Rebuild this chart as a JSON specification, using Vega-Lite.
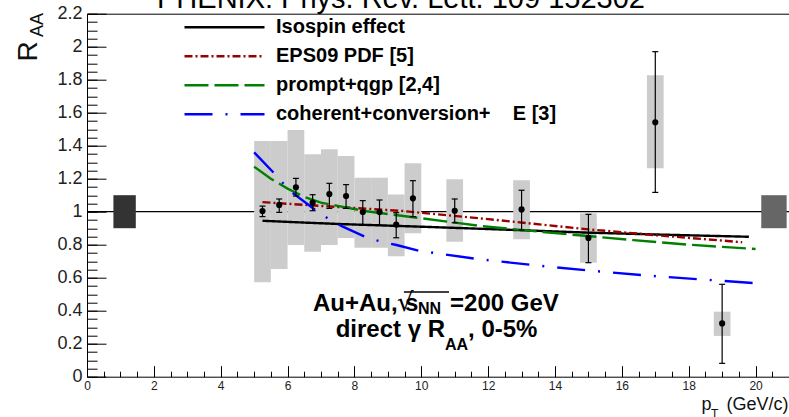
{
  "$schema": "https://vega.github.io/schema/vega-lite/v6.json",
  "width": 702,
  "height": 363,
  "autosize": {"type": "none"},
  "padding": {"left": 87, "top": 13.7, "right": 0, "bottom": 40.3},
  "background": "white",
  "title": {"text": "PHENIX: Phys. Rev. Lett. 109 152302", "anchor": "start", "frame": "group", "dx": 70, "dy": 32, "fontSize": 29, "fontWeight": "normal", "font": "Liberation Sans", "color": "black", "baseline": "alphabetic", "offset": 0},
  "config": {"view": {"stroke": null}, "font": "Liberation Sans"},
  "datasets": {
    "pts": [
      {"x": 5.25, "y": 1.004, "elo": 0.97, "ehi": 1.034, "xlo": 5.0, "xhi": 5.5, "slo": 0.572, "shi": 1.428},
      {"x": 5.75, "y": 1.041, "elo": 0.996, "ehi": 1.077, "xlo": 5.5, "xhi": 6.0, "slo": 0.653, "shi": 1.428},
      {"x": 6.25, "y": 1.148, "elo": 1.095, "ehi": 1.202, "xlo": 6.0, "xhi": 6.5, "slo": 0.798, "shi": 1.495},
      {"x": 6.75, "y": 1.055, "elo": 1.006, "ehi": 1.103, "xlo": 6.5, "xhi": 7.0, "slo": 0.758, "shi": 1.348},
      {"x": 7.25, "y": 1.107, "elo": 1.02, "ehi": 1.172, "xlo": 7.0, "xhi": 7.5, "slo": 0.798, "shi": 1.378},
      {"x": 7.75, "y": 1.095, "elo": 1.02, "ehi": 1.164, "xlo": 7.5, "xhi": 8.0, "slo": 0.84, "shi": 1.337},
      {"x": 8.25, "y": 0.998, "elo": 0.919, "ehi": 1.067, "xlo": 8.0, "xhi": 8.5, "slo": 0.782, "shi": 1.206},
      {"x": 8.75, "y": 0.998, "elo": 0.919, "ehi": 1.071, "xlo": 8.5, "xhi": 9.0, "slo": 0.782, "shi": 1.206},
      {"x": 9.25, "y": 0.922, "elo": 0.842, "ehi": 0.994, "xlo": 9.0, "xhi": 9.5, "slo": 0.73, "shi": 1.105},
      {"x": 9.75, "y": 1.081, "elo": 0.97, "ehi": 1.188, "xlo": 9.5, "xhi": 10.0, "slo": 0.869, "shi": 1.293},
      {"x": 11.0, "y": 1.006, "elo": 0.933, "ehi": 1.077, "xlo": 10.75, "xhi": 11.25, "slo": 0.818, "shi": 1.196},
      {"x": 13.0, "y": 1.014, "elo": 0.889, "ehi": 1.13, "xlo": 12.75, "xhi": 13.25, "slo": 0.833, "shi": 1.19},
      {"x": 15.0, "y": 0.841, "elo": 0.691, "ehi": 0.984, "xlo": 14.75, "xhi": 15.25, "slo": 0.691, "shi": 0.99},
      {"x": 17.0, "y": 1.542, "elo": 1.117, "ehi": 1.97, "xlo": 16.75, "xhi": 17.25, "slo": 1.263, "shi": 1.827},
      {"x": 19.0, "y": 0.323, "elo": 0.081, "ehi": 0.56, "xlo": 18.75, "xhi": 19.25, "slo": 0.247, "shi": 0.394}
    ],
    "curves": [
      {"model": "Isospin effect", "x": 5.25, "y": 0.945},
      {"model": "Isospin effect", "x": 6.5, "y": 0.934},
      {"model": "Isospin effect", "x": 7.6, "y": 0.925},
      {"model": "Isospin effect", "x": 10.0, "y": 0.909},
      {"model": "Isospin effect", "x": 12.0, "y": 0.895},
      {"model": "Isospin effect", "x": 15.0, "y": 0.873},
      {"model": "Isospin effect", "x": 17.0, "y": 0.862},
      {"model": "Isospin effect", "x": 19.8, "y": 0.848},
      {"model": "EPS09 PDF [5]", "x": 5.25, "y": 1.058},
      {"model": "EPS09 PDF [5]", "x": 7.0, "y": 1.035},
      {"model": "EPS09 PDF [5]", "x": 9.4, "y": 1.005},
      {"model": "EPS09 PDF [5]", "x": 12.0, "y": 0.955},
      {"model": "EPS09 PDF [5]", "x": 15.0, "y": 0.893},
      {"model": "EPS09 PDF [5]", "x": 17.0, "y": 0.858},
      {"model": "EPS09 PDF [5]", "x": 19.6, "y": 0.815},
      {"model": "prompt+qgp [2,4]", "x": 5.0, "y": 1.273},
      {"model": "prompt+qgp [2,4]", "x": 5.5, "y": 1.2},
      {"model": "prompt+qgp [2,4]", "x": 6.0, "y": 1.14},
      {"model": "prompt+qgp [2,4]", "x": 6.5, "y": 1.09},
      {"model": "prompt+qgp [2,4]", "x": 7.0, "y": 1.055},
      {"model": "prompt+qgp [2,4]", "x": 7.5, "y": 1.035},
      {"model": "prompt+qgp [2,4]", "x": 8.3, "y": 1.004},
      {"model": "prompt+qgp [2,4]", "x": 9.7, "y": 0.968},
      {"model": "prompt+qgp [2,4]", "x": 11.8, "y": 0.913},
      {"model": "prompt+qgp [2,4]", "x": 14.0, "y": 0.87},
      {"model": "prompt+qgp [2,4]", "x": 16.35, "y": 0.828},
      {"model": "prompt+qgp [2,4]", "x": 18.0, "y": 0.8},
      {"model": "prompt+qgp [2,4]", "x": 20.0, "y": 0.774},
      {"model": "coherent+conversion+\u00a0\u00a0\u00a0\u00a0E [3]", "x": 5.0, "y": 1.36},
      {"model": "coherent+conversion+\u00a0\u00a0\u00a0\u00a0E [3]", "x": 5.57, "y": 1.239},
      {"model": "coherent+conversion+\u00a0\u00a0\u00a0\u00a0E [3]", "x": 5.87, "y": 1.172},
      {"model": "coherent+conversion+\u00a0\u00a0\u00a0\u00a0E [3]", "x": 6.17, "y": 1.111},
      {"model": "coherent+conversion+\u00a0\u00a0\u00a0\u00a0E [3]", "x": 6.87, "y": 1.004},
      {"model": "coherent+conversion+\u00a0\u00a0\u00a0\u00a0E [3]", "x": 7.24, "y": 0.954},
      {"model": "coherent+conversion+\u00a0\u00a0\u00a0\u00a0E [3]", "x": 7.62, "y": 0.913},
      {"model": "coherent+conversion+\u00a0\u00a0\u00a0\u00a0E [3]", "x": 8.39, "y": 0.842},
      {"model": "coherent+conversion+\u00a0\u00a0\u00a0\u00a0E [3]", "x": 8.81, "y": 0.818},
      {"model": "coherent+conversion+\u00a0\u00a0\u00a0\u00a0E [3]", "x": 9.26, "y": 0.798},
      {"model": "coherent+conversion+\u00a0\u00a0\u00a0\u00a0E [3]", "x": 9.96, "y": 0.762},
      {"model": "coherent+conversion+\u00a0\u00a0\u00a0\u00a0E [3]", "x": 11.77, "y": 0.711},
      {"model": "coherent+conversion+\u00a0\u00a0\u00a0\u00a0E [3]", "x": 13.51, "y": 0.673},
      {"model": "coherent+conversion+\u00a0\u00a0\u00a0\u00a0E [3]", "x": 15.21, "y": 0.64},
      {"model": "coherent+conversion+\u00a0\u00a0\u00a0\u00a0E [3]", "x": 16.96, "y": 0.61},
      {"model": "coherent+conversion+\u00a0\u00a0\u00a0\u00a0E [3]", "x": 20.03, "y": 0.566}
    ]
  },
  "layer": [
    {
      "data": {"values": [{"x": 0, "x2": 21, "y": 1}]},
      "mark": {"type": "rule", "color": "black", "strokeWidth": 1.3, "clip": false},
      "encoding": {
        "x": {"field": "x", "type": "quantitative", "scale": {"domain": [0, 21], "nice": false, "zero": false},
          "axis": {"orient": "bottom", "values": [0, 2, 4, 6, 8, 10, 12, 14, 16, 18, 20], "format": "~g", "tickSize": -11, "tickColor": "black", "tickWidth": 1, "domainColor": "black", "domainWidth": 1, "grid": false, "labelFontSize": 12, "labelColor": "#222222", "labelPadding": 15, "labelFont": "Liberation Sans", "labelFlush": false, "labelOverlap": false,
            "title": "p\u00a0\u00a0\u00a0(GeV/c)", "titleX": 701, "titleY": 32.3, "titleAlign": "right", "titleBaseline": "alphabetic", "titleFontSize": 18, "titleFontWeight": "normal", "titleFont": "Liberation Sans", "titleColor": "#111111", "titleAnchor": null}},
        "x2": {"field": "x2"},
        "y": {"field": "y", "type": "quantitative", "scale": {"domain": [0, 2.2], "nice": false, "zero": false},
          "axis": {"orient": "left", "values": [0, 0.2, 0.4, 0.6, 0.8, 1, 1.2, 1.4, 1.6, 1.8, 2, 2.2], "format": "~g", "tickSize": -19, "tickColor": "black", "tickWidth": 1, "domainColor": "black", "domainWidth": 1, "grid": false, "labelFontSize": 18, "labelColor": "#222222", "labelPadding": 24, "labelFont": "Liberation Sans", "labelFlush": false, "labelOverlap": false,
            "title": "R", "titleX": -51, "titleY": 47.3, "titleAngle": 270, "titleAlign": "left", "titleBaseline": "alphabetic", "titleFontSize": 28, "titleFontWeight": "normal", "titleFont": "Liberation Sans", "titleColor": "#111111"}}
      }
    },
    {
      "data": {"name": "pts"},
      "mark": {"type": "rect", "color": "#cccccc"},
      "encoding": {
        "x": {"field": "xlo", "type": "quantitative", "scale": {"domain": [0, 21], "nice": false, "zero": false},
          "axis": {"orient": "bottom", "values": [0, 0.5, 1, 1.5, 2, 2.5, 3, 3.5, 4, 4.5, 5, 5.5, 6, 6.5, 7, 7.5, 8, 8.5, 9, 9.5, 10, 10.5, 11, 11.5, 12, 12.5, 13, 13.5, 14, 14.5, 15, 15.5, 16, 16.5, 17, 17.5, 18, 18.5, 19, 19.5, 20, 20.5, 21], "tickSize": -5.5, "tickColor": "black", "tickWidth": 1, "domain": false, "labels": false, "grid": false, "title": null}},
        "x2": {"field": "xhi"},
        "y": {"field": "slo", "type": "quantitative", "scale": {"domain": [0, 2.2], "nice": false, "zero": false},
          "axis": {"orient": "left", "values": [0, 0.05, 0.1, 0.15, 0.2, 0.25, 0.3, 0.35, 0.4, 0.45, 0.5, 0.55, 0.6, 0.65, 0.7, 0.75, 0.8, 0.85, 0.9, 0.95, 1, 1.05, 1.1, 1.15, 1.2, 1.25, 1.3, 1.35, 1.4, 1.45, 1.5, 1.55, 1.6, 1.65, 1.7, 1.75, 1.8, 1.85, 1.9, 1.95, 2, 2.05, 2.1, 2.15, 2.2], "tickSize": -10, "tickColor": "black", "tickWidth": 1, "domain": false, "labels": false, "grid": false, "title": null}},
        "y2": {"field": "shi"}
      }
    },
    {
      "data": {"values": [{"xlo": 0.79, "xhi": 1.46, "ylo": 0.9, "yhi": 1.1}]},
      "mark": {"type": "rect", "color": "#333333", "clip": false},
      "encoding": {
        "x": {"field": "xlo", "type": "quantitative", "scale": {"domain": [0, 21], "nice": false, "zero": false},
          "axis": {"orient": "top", "domain": true, "domainColor": "black", "domainWidth": 1, "ticks": false, "labels": false, "grid": false, "title": null}},
        "x2": {"field": "xhi"},
        "y": {"field": "ylo", "type": "quantitative", "scale": {"domain": [0, 2.2], "nice": false, "zero": false}, "axis": null},
        "y2": {"field": "yhi"}
      }
    },
    {
      "data": {"values": [{"xlo": 20.17, "xhi": 20.93, "ylo": 0.9, "yhi": 1.1}]},
      "mark": {"type": "rect", "color": "#666666", "clip": false},
      "encoding": {
        "x": {"field": "xlo", "type": "quantitative", "scale": {"domain": [0, 21], "nice": false, "zero": false}, "axis": null},
        "x2": {"field": "xhi"},
        "y": {"field": "ylo", "type": "quantitative", "scale": {"domain": [0, 2.2], "nice": false, "zero": false}, "axis": null},
        "y2": {"field": "yhi"}
      }
    },
    {
      "data": {"name": "curves"},
      "mark": {"type": "line", "strokeWidth": 2.4, "clip": false},
      "encoding": {
        "x": {"field": "x", "type": "quantitative", "scale": {"domain": [0, 21], "nice": false, "zero": false}, "axis": null},
        "y": {"field": "y", "type": "quantitative", "scale": {"domain": [0, 2.2], "nice": false, "zero": false}, "axis": null},
        "color": {"field": "model", "type": "nominal",
          "scale": {"domain": ["Isospin effect", "EPS09 PDF [5]", "prompt+qgp [2,4]", "coherent+conversion+\u00a0\u00a0\u00a0\u00a0E [3]"], "range": ["#000000", "#990000", "#008000", "#0000ff"]},
          "legend": {"orient": "none", "legendX": 96, "legendY": 5, "title": null, "symbolType": "stroke", "symbolSize": 6400, "symbolStrokeWidth": 2.5, "clipHeight": 17, "rowPadding": 8, "labelOffset": 10, "labelFontSize": 20, "labelFontWeight": "bold", "labelFont": "Liberation Sans", "labelColor": "black", "padding": 0, "labelLimit": 500, "direction": "vertical"}},
        "strokeDash": {"field": "model", "type": "nominal",
          "scale": {"domain": ["Isospin effect", "EPS09 PDF [5]", "prompt+qgp [2,4]", "coherent+conversion+\u00a0\u00a0\u00a0\u00a0E [3]"], "range": [[1, 0], [8, 3, 2, 3], [24, 6], [28, 13, 2, 13]]},
          "legend": {"orient": "none", "legendX": 96, "legendY": 5, "title": null, "symbolType": "stroke", "symbolSize": 6400, "symbolStrokeWidth": 2.5, "clipHeight": 17, "rowPadding": 8, "labelOffset": 10, "labelFontSize": 20, "labelFontWeight": "bold", "labelFont": "Liberation Sans", "labelColor": "black", "padding": 0, "labelLimit": 500, "direction": "vertical"}}
      }
    },
    {
      "data": {"name": "pts"},
      "mark": {"type": "rule", "color": "black", "strokeWidth": 1.2},
      "encoding": {
        "x": {"field": "x", "type": "quantitative", "scale": {"domain": [0, 21], "nice": false, "zero": false}, "axis": null},
        "y": {"field": "elo", "type": "quantitative", "scale": {"domain": [0, 2.2], "nice": false, "zero": false}, "axis": null},
        "y2": {"field": "ehi"}
      }
    },
    {
      "data": {"name": "pts"},
      "mark": {"type": "tick", "orient": "horizontal", "size": 6, "thickness": 1.2, "color": "black", "opacity": 1},
      "encoding": {
        "x": {"field": "x", "type": "quantitative", "scale": {"domain": [0, 21], "nice": false, "zero": false}, "axis": null},
        "y": {"field": "elo", "type": "quantitative", "scale": {"domain": [0, 2.2], "nice": false, "zero": false}, "axis": null}
      }
    },
    {
      "data": {"name": "pts"},
      "mark": {"type": "tick", "orient": "horizontal", "size": 6, "thickness": 1.2, "color": "black", "opacity": 1},
      "encoding": {
        "x": {"field": "x", "type": "quantitative", "scale": {"domain": [0, 21], "nice": false, "zero": false}, "axis": null},
        "y": {"field": "ehi", "type": "quantitative", "scale": {"domain": [0, 2.2], "nice": false, "zero": false}, "axis": null}
      }
    },
    {
      "data": {"name": "pts"},
      "mark": {"type": "circle", "size": 38, "color": "black", "opacity": 1},
      "encoding": {
        "x": {"field": "x", "type": "quantitative", "scale": {"domain": [0, 21], "nice": false, "zero": false}, "axis": null},
        "y": {"field": "y", "type": "quantitative", "scale": {"domain": [0, 2.2], "nice": false, "zero": false}, "axis": null}
      }
    },
    {
      "data": {"values": [{"x": 6.76, "y": 0.398, "text": "Au+Au,"}, {"x": 9.51, "y": 0.398, "text": "s"}, {"x": 10.86, "y": 0.398, "text": "=200 GeV"}, {"x": 11.4, "y": 0.239, "text": ", 0-5%"}]},
      "mark": {"type": "text", "align": "left", "baseline": "alphabetic", "fontSize": 24, "fontWeight": "bold", "font": "Liberation Sans", "color": "black", "clip": false},
      "encoding": {
        "x": {"field": "x", "type": "quantitative", "scale": {"domain": [0, 21], "nice": false, "zero": false}, "axis": null},
        "y": {"field": "y", "type": "quantitative", "scale": {"domain": [0, 2.2], "nice": false, "zero": false}, "axis": null},
        "text": {"field": "text"}
      }
    },
    {
      "data": {"values": [{"x": 10.71, "y": 0.239, "text": "direct γ R"}]},
      "mark": {"type": "text", "align": "right", "baseline": "alphabetic", "fontSize": 24, "fontWeight": "bold", "font": "Liberation Sans", "color": "black", "clip": false},
      "encoding": {
        "x": {"field": "x", "type": "quantitative", "scale": {"domain": [0, 21], "nice": false, "zero": false}, "axis": null},
        "y": {"field": "y", "type": "quantitative", "scale": {"domain": [0, 2.2], "nice": false, "zero": false}, "axis": null},
        "text": {"field": "text"}
      }
    },
    {
      "data": {"values": [{"x": 9.9, "y": 0.38, "text": "NN"}, {"x": 10.71, "y": 0.162, "text": "AA"}]},
      "mark": {"type": "text", "align": "left", "baseline": "alphabetic", "fontSize": 16, "fontWeight": "bold", "font": "Liberation Sans", "color": "black", "clip": false},
      "encoding": {
        "x": {"field": "x", "type": "quantitative", "scale": {"domain": [0, 21], "nice": false, "zero": false}, "axis": null},
        "y": {"field": "y", "type": "quantitative", "scale": {"domain": [0, 2.2], "nice": false, "zero": false}, "axis": null},
        "text": {"field": "text"}
      }
    },
    {
      "data": {"values": [{"x": 9.27, "y": 0.398, "text": "√"}]},
      "mark": {"type": "text", "align": "left", "baseline": "alphabetic", "fontSize": 26, "fontWeight": "normal", "font": "DejaVu Sans", "color": "black", "clip": false},
      "encoding": {
        "x": {"field": "x", "type": "quantitative", "scale": {"domain": [0, 21], "nice": false, "zero": false}, "axis": null},
        "y": {"field": "y", "type": "quantitative", "scale": {"domain": [0, 2.2], "nice": false, "zero": false}, "axis": null},
        "text": {"field": "text"}
      }
    },
    {
      "data": {"values": [{"x": 9.48, "x2": 10.83, "y": 0.513}]},
      "mark": {"type": "rule", "color": "black", "strokeWidth": 1.5, "clip": false},
      "encoding": {
        "x": {"field": "x", "type": "quantitative", "scale": {"domain": [0, 21], "nice": false, "zero": false}, "axis": null},
        "x2": {"field": "x2"},
        "y": {"field": "y", "type": "quantitative", "scale": {"domain": [0, 2.2], "nice": false, "zero": false}, "axis": null}
      }
    },
    {
      "data": {"values": [{"x": -1.316, "y": 2.059, "text": "AA"}]},
      "mark": {"type": "text", "align": "left", "baseline": "alphabetic", "angle": 270, "fontSize": 18, "fontWeight": "normal", "font": "Liberation Sans", "color": "#111111", "clip": false},
      "encoding": {
        "x": {"field": "x", "type": "quantitative", "scale": {"domain": [0, 21], "nice": false, "zero": false}, "axis": null},
        "y": {"field": "y", "type": "quantitative", "scale": {"domain": [0, 2.2], "nice": false, "zero": false}, "axis": null},
        "text": {"field": "text"}
      }
    },
    {
      "data": {"values": [{"x": 18.67, "y": -0.25, "text": "T"}]},
      "mark": {"type": "text", "align": "left", "baseline": "alphabetic", "fontSize": 12, "fontWeight": "normal", "font": "Liberation Sans", "color": "#111111", "clip": false},
      "encoding": {
        "x": {"field": "x", "type": "quantitative", "scale": {"domain": [0, 21], "nice": false, "zero": false}, "axis": null},
        "y": {"field": "y", "type": "quantitative", "scale": {"domain": [0, 2.2], "nice": false, "zero": false}, "axis": null},
        "text": {"field": "text"}
      }
    }
  ],
  "resolve": {"axis": {"x": "independent", "y": "independent"}}
}
